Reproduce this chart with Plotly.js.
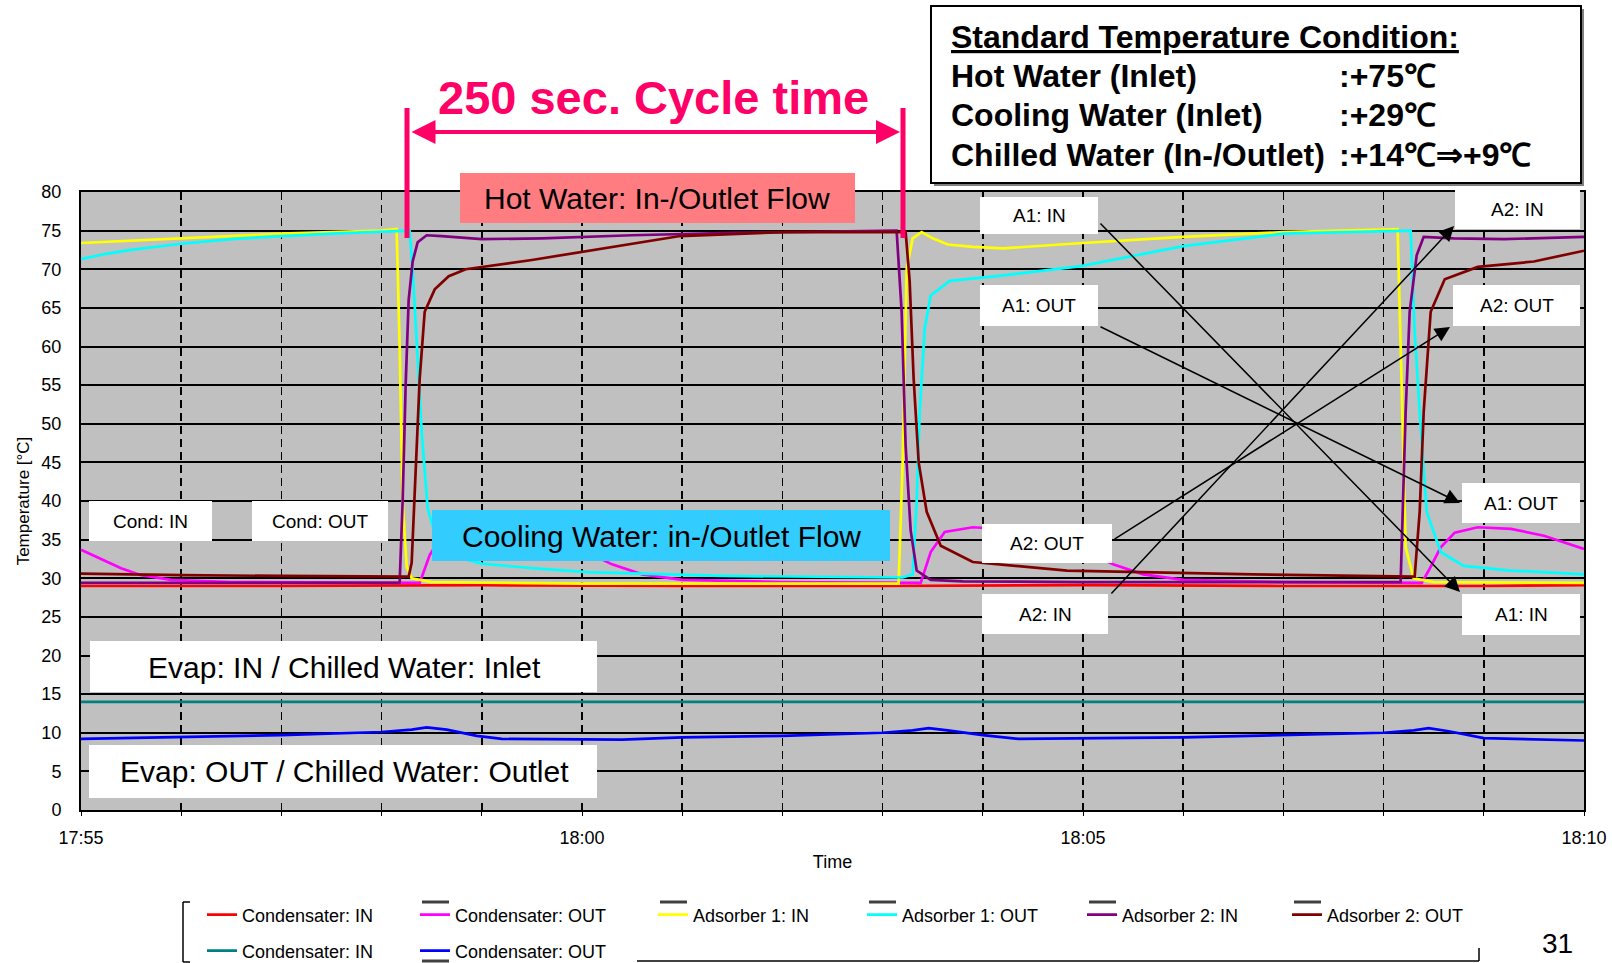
<!DOCTYPE html>
<html><head><meta charset="utf-8">
<script src="https://cdn.plot.ly/plotly-3.0.1.min.js"></script>
<style>html,body{margin:0;padding:0;background:#fff}#chart{width:1612px;height:963px}</style>
</head><body><div id="chart"></div>
<script>
// ---- data (time in minutes after 17:55, temperature in °C) ----
const tickVals = [0, 5, 10, 15];
const tickLabels = ['17:55', '18:00', '18:05', '18:10'];
const seriesNames = ['Condensater: IN', 'Condensater: OUT', 'Adsorber 1: IN', 'Adsorber 1: OUT',
  'Adsorber 2: IN', 'Adsorber 2: OUT', 'Condensater: IN', 'Condensater: OUT'];
const seriesColors = ['#ff0000', '#ff00ff', '#ffff00', '#00ffff', '#800080', '#800000', '#008080', '#0000ff'];

const condInTime = [0, 2, 4, 6, 8, 10, 12, 14, 15];
const condInTemp = [29.0, 29.0, 29.1, 29.0, 29.0, 29.1, 29.0, 29.0, 29.1];

const condOutTime = [0, 0.2, 0.4, 0.6, 0.9, 1.5, 3.0, 3.38, 3.48, 3.62, 3.9, 4.3, 4.6, 5.0, 5.3, 5.6, 6.0, 7.0,
  8.38, 8.48, 8.62, 8.9, 9.3, 9.6, 10.0, 10.3, 10.6, 11.0, 12.0, 13.38, 13.45, 13.57, 13.71, 13.94, 14.27, 14.6, 15.0];
const condOutTemp = [33.7, 32.5, 31.3, 30.4, 29.8, 29.5, 29.4, 29.4, 33.0, 35.9, 36.6, 36.3, 35.5, 33.7, 31.8, 30.5, 29.8, 29.5,
  29.4, 33.4, 36.0, 36.6, 36.3, 35.5, 33.7, 31.8, 30.5, 29.8, 29.5, 29.4, 31.0, 34.0, 35.9, 36.6, 36.4, 35.5, 33.8];

const ads1InTime = [0, 0.5, 1, 1.5, 2, 2.5, 3.0, 3.15, 3.18, 3.21, 3.25, 3.3, 3.5, 5.0, 7.0,
  8.16, 8.2, 8.24, 8.3, 8.39, 8.5, 8.65, 8.9, 9.2, 10.0, 11.0, 12.0, 13.14, 13.18, 13.22, 13.3, 13.5, 15.0];
const ads1InTemp = [73.4, 73.7, 74.0, 74.3, 74.6, 74.8, 75.0, 75.2, 60, 40, 31.5, 30.0, 29.5, 29.3, 29.3,
  29.3, 45, 70, 74.0, 74.8, 74.0, 73.2, 72.9, 72.7, 73.4, 74.2, 74.8, 75.2, 55, 34, 30.0, 29.5, 29.4];

const ads1OutTime = [0, 0.25, 0.5, 1, 1.5, 2, 2.5, 3.0, 3.28, 3.31, 3.35, 3.4, 3.46, 3.55, 3.67, 4.0, 4.5, 5.05, 6.4, 8.2,
  8.3, 8.34, 8.37, 8.42, 8.48, 8.67, 9.14, 9.98, 11.0, 12.0, 13.27, 13.31, 13.36, 13.43, 13.57, 13.8, 14.27, 15.0];
const ads1OutTemp = [71.3, 72.0, 72.5, 73.3, 73.9, 74.3, 74.6, 74.8, 75.0, 70, 60, 49, 39, 35, 33, 31.9, 31.3, 30.8, 30.3, 30.1,
  30.5, 40, 51.5, 62.3, 66.6, 68.5, 69.1, 70.4, 73.0, 74.6, 75.0, 62, 51.5, 38.6, 33.4, 31.6, 31.0, 30.5];

const ads2InTime = [0, 3.0, 3.18, 3.21, 3.24, 3.27, 3.31, 3.36, 3.45, 3.6, 4.0, 4.6, 5.5, 6.5, 8.14,
  8.19, 8.23, 8.28, 8.34, 8.48, 8.8, 10.0, 12.0, 13.17, 13.22, 13.26, 13.33, 13.4, 13.7, 14.2, 15.0];
const ads2InTemp = [29.4, 29.4, 29.4, 40, 55, 66, 71, 73.5, 74.4, 74.3, 73.9, 74.0, 74.4, 74.7, 75.0,
  64.5, 47.1, 36.2, 31.0, 29.8, 29.6, 29.5, 29.5, 29.5, 51.5, 64.5, 71.8, 74.2, 74.0, 73.9, 74.2];

const ads2OutTime = [0, 1.0, 2.0, 3.27, 3.3, 3.34, 3.38, 3.43, 3.53, 3.67, 3.84, 4.5, 5.2, 5.98, 7.0,
  8.23, 8.27, 8.31, 8.36, 8.44, 8.58, 8.9, 9.84, 11.7, 13.31, 13.36, 13.4, 13.47, 13.61, 13.94, 14.5, 15.0];
const ads2OutTemp = [30.6, 30.4, 30.3, 30.2, 32, 45, 55.8, 64.5, 67.4, 69.1, 70.0, 71.2, 72.7, 74.3, 74.8,
  74.8, 68.5, 55.8, 45, 38.6, 34.2, 32.1, 31.0, 30.5, 30.2, 38.6, 51.5, 64.5, 68.7, 70.3, 71.0, 72.4];

const evapInTime = [0, 5, 10, 15];
const evapInTemp = [14.0, 14.0, 14.0, 14.0];

const evapOutTime = [0, 1.2, 2.0, 3.0, 3.3, 3.45, 3.65, 3.95, 4.2, 5.4, 6.0, 7.0, 8.0, 8.3, 8.46, 8.65, 9.0, 9.36,
  11.0, 13.0, 13.3, 13.45, 13.65, 14.0, 15.0];
const evapOutTemp = [9.2, 9.5, 9.7, 10.1, 10.4, 10.7, 10.4, 9.6, 9.2, 9.1, 9.4, 9.6, 10.0, 10.3, 10.6, 10.3, 9.7, 9.2,
  9.4, 10.0, 10.3, 10.6, 10.2, 9.3, 9.0];

const seriesTimes = [condInTime, condOutTime, ads1InTime, ads1OutTime, ads2InTime, ads2OutTime, evapInTime, evapOutTime];
const seriesTemps = [condInTemp, condOutTemp, ads1InTemp, ads1OutTemp, ads2InTemp, ads2OutTemp, evapInTemp, evapOutTemp];

// ---- layout geometry (pixels of the 1612x963 page) ----
const W = 1612, H = 963, L = 81, R = 1584, T = 192, B = 810;
const px = x => (x - L) / (R - L);
const py = y => (B - y) / (B - T);
const FONT = 'Liberation Sans, Arial, sans-serif';
const PINK = '#ff0066';

// legend entry positions (page px): left edge and row centre of every key
const legendPos = [[202, 915], [415, 915], [653, 915], [862, 915], [1082, 915], [1287, 915], [202, 951], [415, 951]];
const legendKey = i => (i === 0 ? 'legend' : 'legend' + (i + 1));

const traces = seriesNames.map((n, i) => ({
  type: 'scatter', mode: 'lines', name: n,
  x: seriesTimes[i], y: seriesTemps[i],
  line: {color: seriesColors[i], width: 2.7},
  legend: legendKey(i),
  hoverinfo: 'skip'
}));

const shapes = [];
const annotations = [];
function box(x0, x1, y0, y1, fill) {
  shapes.push({type: 'rect', xref: 'paper', yref: 'paper', layer: 'above',
    x0: px(x0), x1: px(x1), y0: py(y1), y1: py(y0), fillcolor: fill, line: {width: 0}});
}
function text(t, x, y, size, opts) {
  annotations.push(Object.assign({text: t, xref: 'paper', yref: 'paper', x: px(x), y: py(y),
    showarrow: false, xanchor: 'center', yanchor: 'middle',
    font: {family: FONT, size: size, color: '#000'}}, opts || {}));
}
function line(x0, y0, x1, y1, color, width) {
  shapes.push({type: 'line', xref: 'paper', yref: 'paper', layer: 'above',
    x0: px(x0), y0: py(y0), x1: px(x1), y1: py(y1), line: {color: color, width: width}});
}
function arrow(tx, ty, hx, hy, color, width, both) {
  annotations.push({text: '', xref: 'paper', yref: 'paper', x: px(hx), y: py(hy),
    ax: tx - hx, ay: ty - hy, axref: 'pixel', ayref: 'pixel', showarrow: true,
    arrowhead: 2, arrowsize: both ? 1.2 : 2.0, arrowwidth: width, arrowcolor: color,
    arrowside: both ? 'end+start' : 'end', standoff: 0, startstandoff: 0});
}

// cycle time marker
line(407, 108, 407, 238, PINK, 5);
line(903, 108, 903, 238, PINK, 5);
arrow(410, 132, 900, 132, PINK, 4, true);
text('<b>250 sec. Cycle time</b>', 653, 97, 47, {font: {family: FONT, size: 47, color: PINK}});

// flow boxes
box(460, 855, 173, 223, '#ff7c80');
text('Hot Water: In-/Outlet Flow', 657, 198, 30);
box(432, 890, 510, 561, '#33ccff');
text('Cooling Water: in-/Outlet Flow', 661, 536, 30);

// condenser / evaporator labels
box(89, 212, 501, 541, '#ffffff');
text('Cond: IN', 150, 521, 19);
box(252, 388, 501, 541, '#ffffff');
text('Cond: OUT', 320, 521, 19);
box(90, 597, 641, 692, '#ffffff');
text('Evap: IN / Chilled Water: Inlet', 344, 667, 30);
box(89, 597, 745, 798, '#ffffff');
text('Evap: OUT / Chilled Water: Outlet', 344, 771, 30);

// adsorber labels
const adsLabels = [
  ['A1: IN', 980, 1098, 197, 234], ['A1: OUT', 980, 1098, 285, 326],
  ['A2: OUT', 982, 1112, 524, 563], ['A2: IN', 982, 1108, 594, 634],
  ['A2: IN', 1455, 1580, 190, 229], ['A2: OUT', 1453, 1580, 285, 326],
  ['A1: OUT', 1462, 1580, 483, 523], ['A1: IN', 1462, 1580, 594, 635]
];
adsLabels.forEach(a => { box(a[1], a[2], a[3], a[4], '#ffffff'); text(a[0], (a[1] + a[2]) / 2, (a[3] + a[4]) / 2, 19); });
arrow(1099, 222, 1460, 592, '#000', 1.5);
arrow(1099, 326, 1460, 503, '#000', 1.5);
arrow(1113, 540, 1450, 327, '#000', 1.5);
arrow(1110, 595, 1454, 226, '#000', 1.5);

// standard condition box
shapes.push({type: 'rect', xref: 'paper', yref: 'paper', layer: 'above',
  x0: px(934), x1: px(1584), y0: py(186), y1: py(9), fillcolor: '#808080', line: {width: 0}});
shapes.push({type: 'rect', xref: 'paper', yref: 'paper', layer: 'above',
  x0: px(931), x1: px(1581), y0: py(183), y1: py(6), fillcolor: '#ffffff', line: {color: '#000', width: 2}});
const condRows = [
  ['Hot Water (Inlet)', ':+75℃'],
  ['Cooling Water (Inlet)', ':+29℃'],
  ['Chilled Water (In-/Outlet)', ':+14℃⇒+9℃']
];
text('<b>Standard Temperature Condition:</b>', 949, 37, 32,
  {xanchor: 'left', font: {family: FONT, size: 32, color: '#000', lineposition: 'under'}});
condRows.forEach((r, i) => {
  text('<b>' + r[0] + '</b>', 949, 76 + i * 39.5, 32, {xanchor: 'left'});
  text('<b>' + r[1] + '</b>', 1337, 76 + i * 39.5, 32, {xanchor: 'left'});
});

// legend frame and key caps (above the row-1 keys, below the second row-2 key)
line(183, 902, 183, 962, '#000', 1.5);
line(183, 902, 190, 902, '#000', 1.5);
line(183, 962, 190, 962, '#000', 1.5);
line(637, 961, 1479, 961, '#000', 1.5);
line(1479, 948, 1479, 961, '#000', 1.5);
legendPos.slice(1, 6).forEach(p => line(p[0] + 7, 902, p[0] + 34, 902, '#404040', 3));
line(legendPos[7][0] + 7, 961, legendPos[7][0] + 34, 961, '#404040', 3);

// page number
text('31', 1557, 943, 28);

const layout = {
  width: W, height: H,
  margin: {l: L, r: W - R, t: T, b: H - B, pad: 0, autoexpand: false},
  paper_bgcolor: '#ffffff', plot_bgcolor: '#c0c0c0',
  font: {family: FONT, size: 18, color: '#000'},
  showlegend: true,
  xaxis: {
    range: [0, 15], tickvals: tickVals, ticktext: tickLabels,
    showgrid: true, gridcolor: '#000', gridwidth: 1.5, griddash: '8px,5px',
    minor: {dtick: 1, showgrid: true, gridcolor: '#000', gridwidth: 1.5, griddash: '8px,5px', ticks: 'outside', ticklen: 4, tickcolor: '#000'},
    ticks: 'outside', ticklen: 4, tickcolor: '#000',
    showline: true, mirror: true, linecolor: '#000', linewidth: 2,
    zeroline: false, tickfont: {size: 18}, ticklabelstandoff: 6,
    title: {text: 'Time', font: {size: 18}, standoff: 9}
  },
  yaxis: {
    range: [0, 80], dtick: 5, tick0: 0,
    showgrid: true, gridcolor: '#000', gridwidth: 2,
    showline: true, mirror: true, linecolor: '#000', linewidth: 2,
    zeroline: false, ticks: '', tickfont: {size: 18}, ticklabelstandoff: 14,
    title: {text: 'Temperature [°C]', font: {size: 17}, standoff: 7}
  },
  shapes: shapes,
  annotations: annotations
};
legendPos.forEach((p, i) => {
  layout[legendKey(i)] = {orientation: 'h', xanchor: 'left', yanchor: 'middle', bgcolor: 'rgba(0,0,0,0)',
    borderwidth: 0, font: {family: FONT, size: 18, color: '#000'}, itemwidth: 30,
    x: px(p[0]), y: py(p[1])};
});

Plotly.newPlot('chart', traces, layout, {displayModeBar: false, staticPlot: true});
</script></body></html>
